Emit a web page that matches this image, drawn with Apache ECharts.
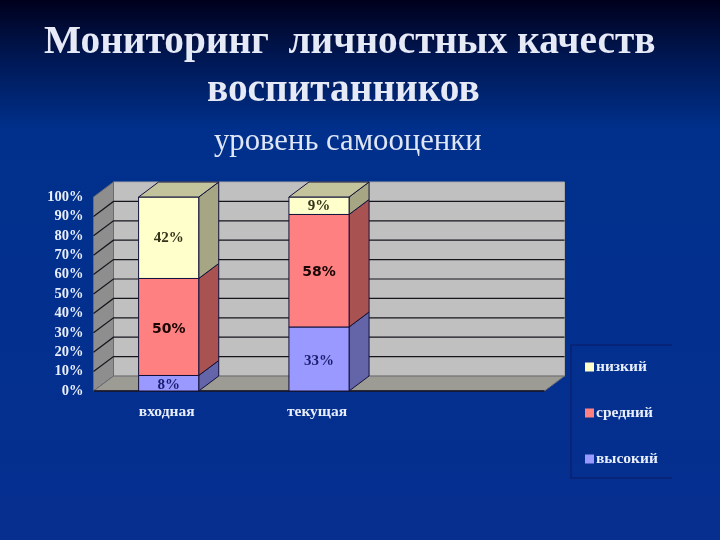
<!DOCTYPE html>
<html><head><meta charset="utf-8">
<style>html,body{margin:0;padding:0;background:#05308f}#c{width:720px;height:540px}</style>
<script src="https://cdn.jsdelivr.net/npm/echarts@6/dist/echarts.min.js"></script>
</head><body><div id="c"></div>
<script>
const categories = ['входная', 'текущая', ''];
const high = [8, 33, null];
const mid = [50, 58, null];
const low = [42, 9, null];
const yTicks = [0, 10, 20, 30, 40, 50, 60, 70, 80, 90, 100];
const titleLines = ['Мониторинг  личностных качеств', 'воспитанников', 'уровень самооценки'];
const names = ['низкий', 'средний', 'высокий'];

const DX = 20, DY = 15;
const serif = '"Liberation Serif","DejaVu Serif",serif';

function poly(points, fill, stroke) {
  return { type: 'polygon', shape: { points }, style: { fill, stroke: stroke || '#10103a', lineWidth: 1 } };
}
function wallsRender(params, api) {
  const c = params.coordSys, l = c.x, r = c.x + c.width, t = c.y, b = c.y + c.height;
  const kids = [
    poly([[l + DX, t - DY], [r + DX, t - DY], [r + DX, b - DY], [l + DX, b - DY]], '#c0c0c0', '#a8a8a8'),
    poly([[l, t], [l + DX, t - DY], [l + DX, b - DY], [l, b]], '#8e8e8e', '#6a6a70'),
    poly([[l, b], [l + DX, b - DY], [r + DX, b - DY], [r, b]], '#9c9b94', '#6a6a70')
  ];
  yTicks.forEach(v => {
    const y = api.coord([0, v])[1];
    if (v > 0 && v < 100) kids.push({ type: 'polyline', shape: { points: [[l, y], [l + DX, y - DY], [r + DX, y - DY]] }, style: { fill: 'none', stroke: '#15151c', lineWidth: 1.2 } });
  });
  kids.push({ type: 'line', shape: { x1: l, y1: b, x2: r, y2: b }, style: { stroke: '#0a0a20', lineWidth: 1.5 } });
  return { type: 'group', children: kids };
}
function barRender(front, side, top, labelStyle, isTop) {
  return function (params, api) {
    if (api.value(2) === null || isNaN(api.value(2))) return null;
    const i = api.value(0), v0 = api.value(1), v1 = api.value(2);
    const w = api.size([1, 0])[0] * 0.4;
    const p0 = api.coord([i, v0]), p1 = api.coord([i, v1]);
    const x0 = p0[0] - w / 2, x1 = p0[0] + w / 2, yb = p0[1], yt = p1[1];
    const kids = [
      poly([[x1, yb], [x1 + DX, yb - DY], [x1 + DX, yt - DY], [x1, yt]], side),
      poly([[x0, yb], [x1, yb], [x1, yt], [x0, yt]], front)
    ];
    if (isTop) kids.push(poly([[x0, yt], [x0 + DX, yt - DY], [x1 + DX, yt - DY], [x1, yt]], top));
    kids.push({ type: 'text', z2: 10, style: Object.assign({ text: (v1 - v0) + '%', x: p0[0], y: (yb + yt) / 2 + labelStyle.nudge, align: 'center', verticalAlign: 'middle' }, labelStyle.style) });
    return { type: 'group', children: kids };
  };
}
const stackData = (vals, bases) => categories.map((_, i) => [i, bases[i], vals[i] === null ? null : bases[i] + vals[i]]);
const zeros = categories.map(() => 0);
const midBase = high.map(v => v || 0);
const lowBase = high.map((v, i) => (v || 0) + (mid[i] || 0));
const serifLabel = (c, nudge) => ({ nudge, style: { fill: c, font: 'bold 15px ' + serif } });
const sansLabel = { nudge: 2, style: { fill: '#1a0505', font: 'bold 14px "DejaVu Sans",sans-serif' } };

const chart = echarts.init(document.getElementById('c'));
chart.setOption({
  animation: false,
  backgroundColor: { type: 'linear', x: 0, y: 0, x2: 0, y2: 1, colorStops: [
    { offset: 0, color: '#00001c' }, { offset: 0.1, color: '#001650' }, { offset: 0.24, color: '#00308c' }, { offset: 1, color: '#062f90' }] },
  title: [
    { text: titleLines[0], left: 39, top: 18, textStyle: { color: '#e6eaf6', fontFamily: serif, fontWeight: 'bold', fontSize: 39.3 } },
    { text: titleLines[1], left: 202, top: 66, textStyle: { color: '#e6eaf6', fontFamily: serif, fontWeight: 'bold', fontSize: 39.3 } },
    { text: titleLines[2], left: 209, top: 121, textStyle: { color: '#dfe6f6', fontFamily: serif, fontWeight: 'normal', fontSize: 30.7 } }
  ],
  grid: { left: 93.5, top: 197, width: 451, height: 194 },
  xAxis: { type: 'category', data: categories, axisLine: { show: false }, axisTick: { show: false },
    axisLabel: { color: '#e8eefc', fontFamily: serif, fontWeight: 'bold', fontSize: 15.5, margin: 13, padding: [0, 4, 0, 0] } },
  yAxis: { type: 'value', min: 0, max: 100, interval: 10, axisLine: { show: false }, axisTick: { show: false }, splitLine: { show: false },
    axisLabel: { color: '#e8eefc', fontFamily: serif, fontWeight: 'bold', fontSize: 14.5, margin: 10, padding: [3, 0, 0, 0], formatter: '{value}%' } },
  legend: { orient: 'vertical', left: 580, top: 354, itemWidth: 9, itemHeight: 9, itemGap: 30, icon: 'rect', data: names,
    selectedMode: false, textStyle: { color: '#e8eefc', fontFamily: serif, fontWeight: 'bold', fontSize: 15.5, padding: [0, 0, 0, -3] } },
  graphic: [{ type: 'polyline', silent: true, shape: { points: [[672, 345], [571, 345], [571, 478], [672, 478]] }, style: { fill: 'none', stroke: '#0a2272', lineWidth: 1.5 } }],
  series: [
    { type: 'custom', name: 'walls', data: [[0]], renderItem: wallsRender, encode: { x: 0 }, silent: true, z: 1, legendHoverLink: false },
    { type: 'custom', name: names[2], data: stackData(high, zeros), itemStyle: { color: '#9999ff' }, z: 2, silent: true, encode: { x: 0, y: [1, 2] },
      renderItem: barRender('#9999ff', '#6464a8', null, serifLabel('#1c1c6e', 2), false) },
    { type: 'custom', name: names[1], data: stackData(mid, midBase), itemStyle: { color: '#ff8080' }, z: 3, silent: true, encode: { x: 0, y: [1, 2] },
      renderItem: barRender('#ff8080', '#a85252', null, sansLabel, false) },
    { type: 'custom', name: names[0], data: stackData(low, lowBase), itemStyle: { color: '#ffffcc' }, z: 4, silent: true, encode: { x: 0, y: [1, 2] },
      renderItem: barRender('#ffffcc', '#a6a685', '#c4c49c', serifLabel('#33331a', 0), true) }
  ]
});
</script></body></html>
